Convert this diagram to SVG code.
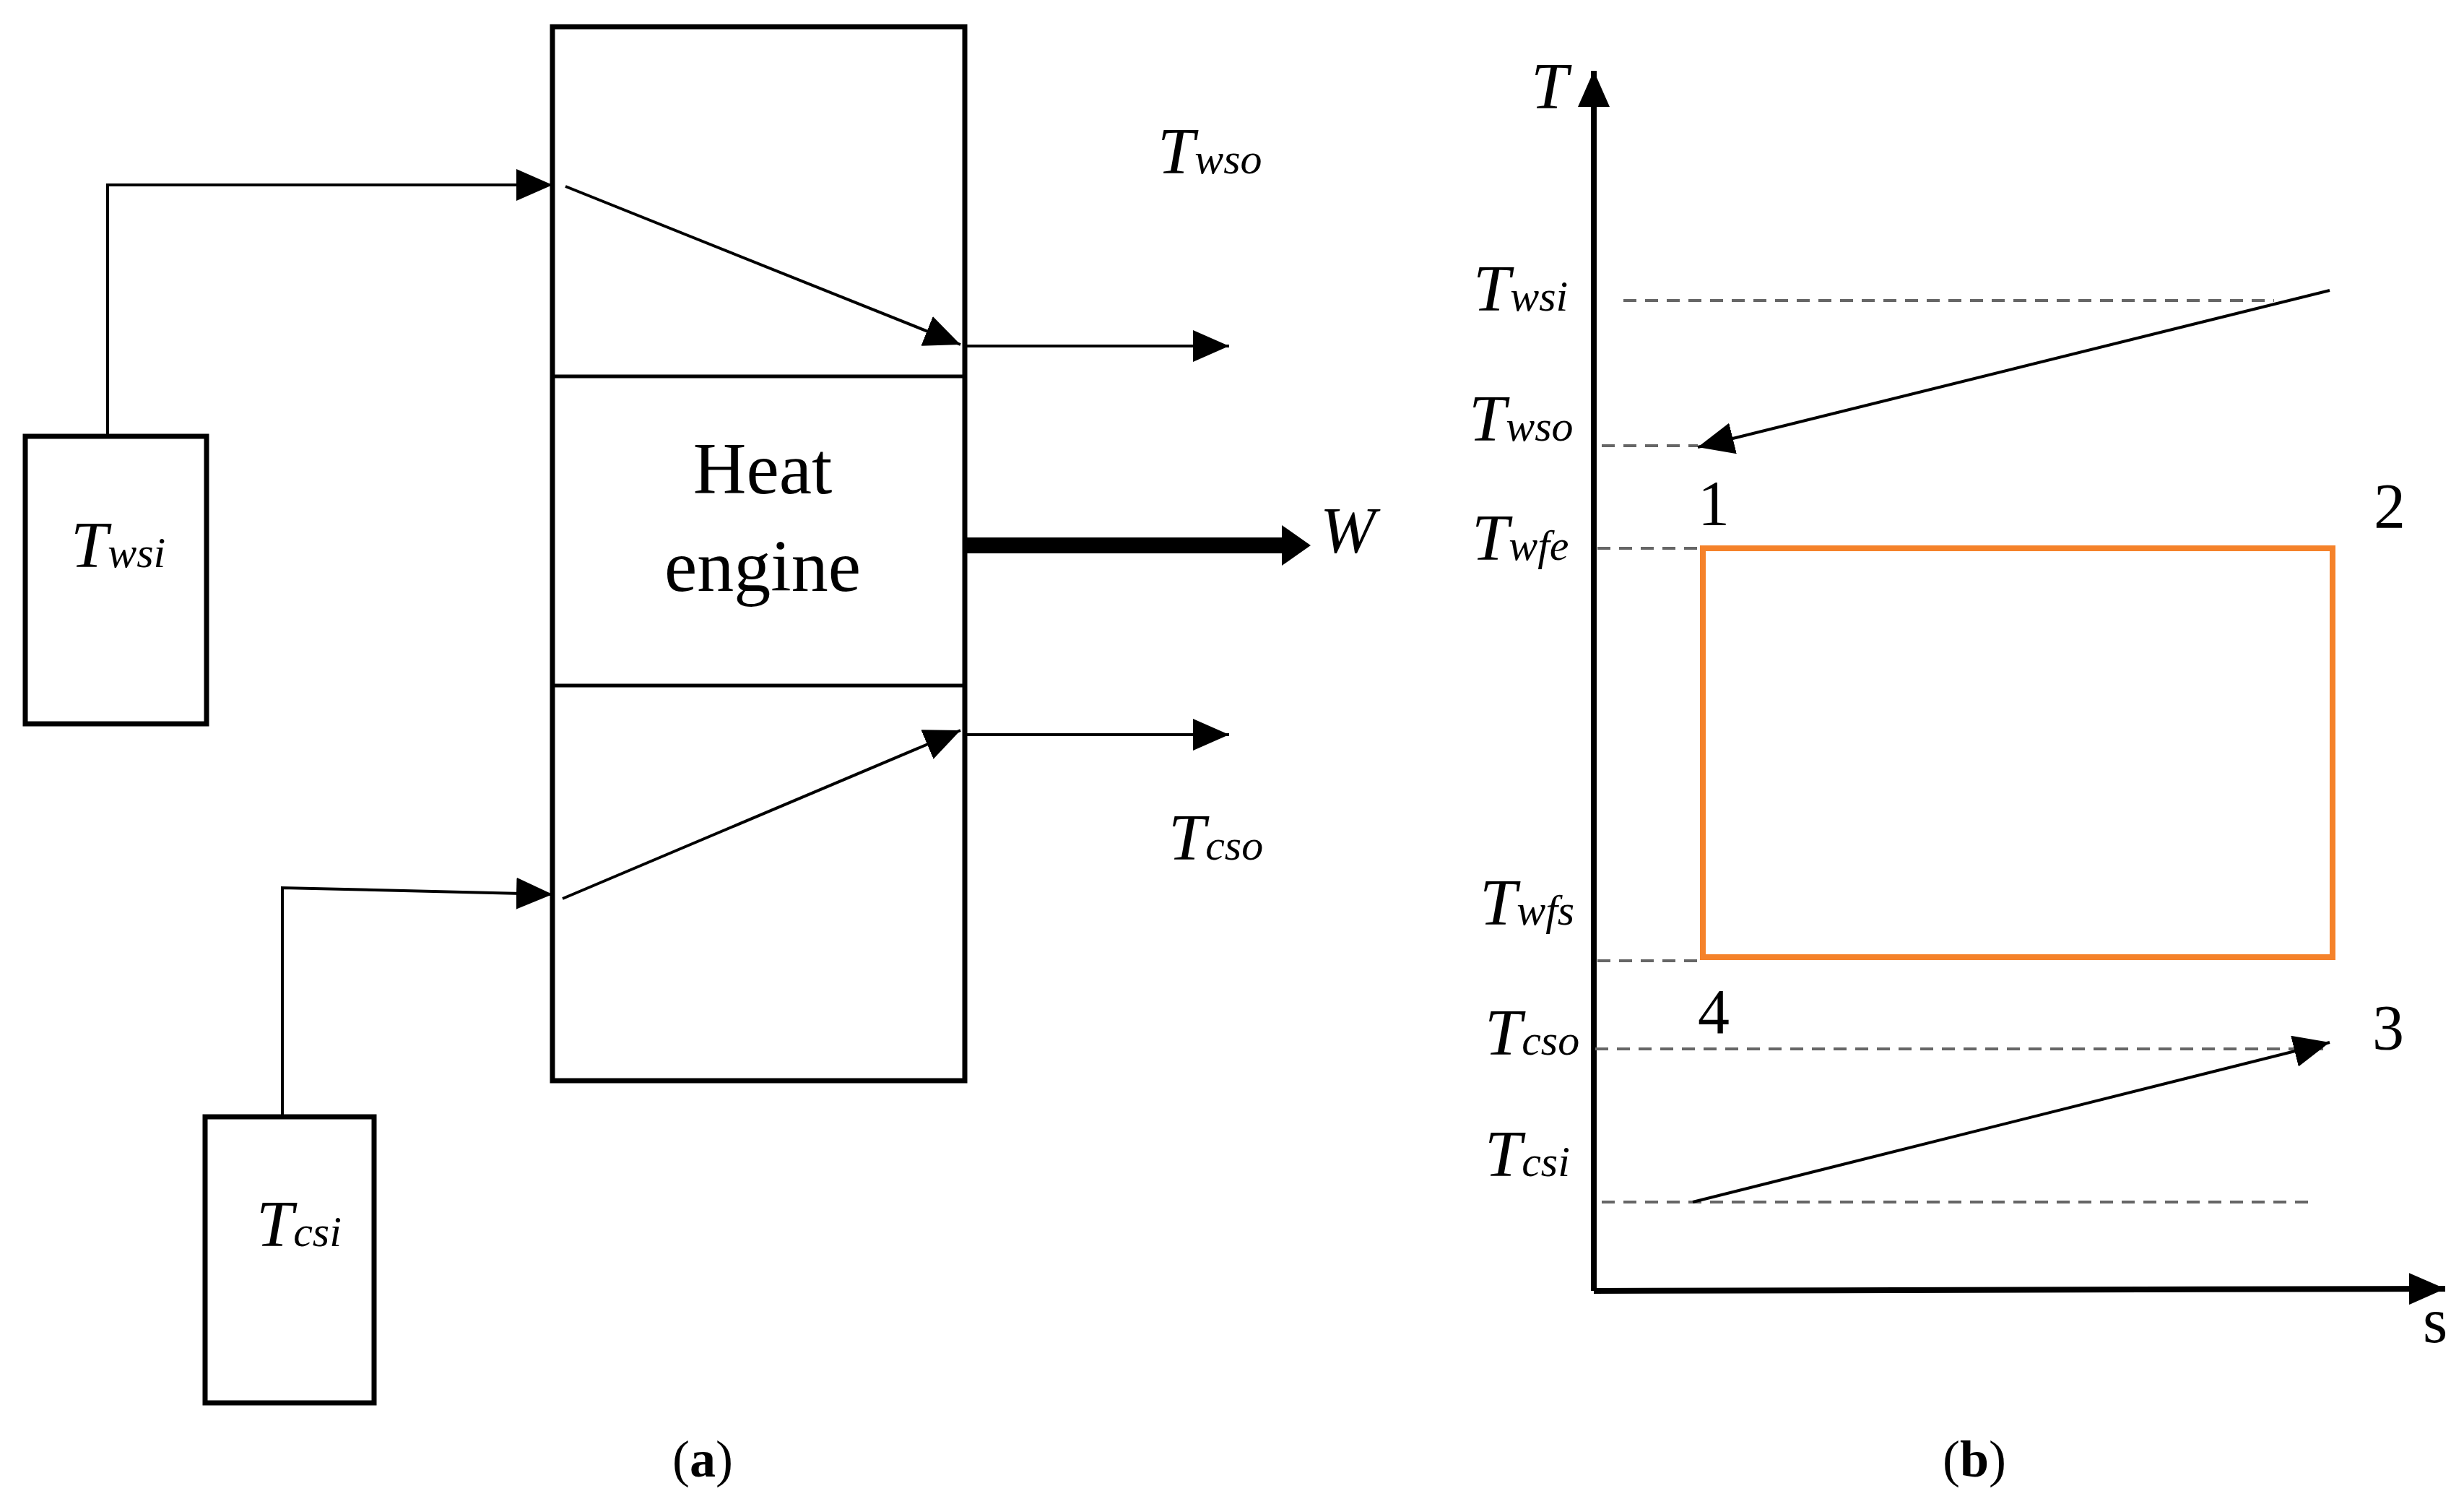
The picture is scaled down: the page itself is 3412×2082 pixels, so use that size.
<svg xmlns="http://www.w3.org/2000/svg" width="3412" height="2082" viewBox="0 0 3412 2082">
<style>
text{font-family:"Liberation Serif","DejaVu Serif",serif;fill:#000}
.it{font-style:italic;font-size:92px}
.sub{font-size:60px}
.num{font-size:88px}
.box{fill:none;stroke:#000;stroke-width:7}
.ln{fill:none;stroke:#000;stroke-width:4}
.dash{fill:none;stroke:#666;stroke-width:4;stroke-dasharray:18,12}
</style>
<defs>
<marker id="ahb" viewBox="0 0 10 10" refX="10" refY="5" markerWidth="50" markerHeight="44" markerUnits="userSpaceOnUse" orient="auto" preserveAspectRatio="none"><path d="M0,0L10,5L0,10z" fill="#000"/></marker>
<marker id="ahw" viewBox="0 0 10 10" refX="10" refY="5" markerWidth="40" markerHeight="56" markerUnits="userSpaceOnUse" orient="auto" preserveAspectRatio="none"><path d="M0,0L10,5L0,10z" fill="#000"/></marker>
</defs>
<g id="engine">
<rect class="box" x="765" y="37" width="571" height="1459"/>
<line class="ln" x1="765" y1="521" x2="1336" y2="521" style="stroke-width:5"/>
<line class="ln" x1="765" y1="949" x2="1336" y2="949" style="stroke-width:5"/>
<text x="1056" y="683" text-anchor="middle" font-size="102">Heat</text>
<text x="1056" y="818" text-anchor="middle" font-size="102">engine</text>
</g>
<g id="hot">
<rect class="box" x="35" y="604" width="251" height="398"/>
<text x="98" y="785" class="it">T<tspan class="sub">wsi</tspan></text>
</g>
<g id="cold">
<rect class="box" x="284" y="1546" width="234" height="396"/>
<text x="355" y="1725" class="it">T<tspan class="sub">csi</tspan></text>
</g>
<g id="labels-a">
<text x="1603" y="240" class="it">T<tspan class="sub">wso</tspan></text>
<text x="1618" y="1190" class="it">T<tspan class="sub">cso</tspan></text>
<text x="1828" y="765" class="it">W</text>
<text x="973" y="2044" text-anchor="middle" font-size="72">(<tspan font-weight="bold">a</tspan>)</text>
</g>
<g id="connectors-a">
<path class="ln" d="M149,604V256H765" marker-end="url(#ahb)"/>
<path class="ln" d="M391,1546V1229L765,1238" marker-end="url(#ahb)"/>
<line class="ln" x1="783" y1="258" x2="1330" y2="477" marker-end="url(#ahb)"/>
<line class="ln" x1="1336" y1="479" x2="1702" y2="479" marker-end="url(#ahb)"/>
<line class="ln" x1="779" y1="1244" x2="1330" y2="1011" marker-end="url(#ahb)"/>
<line class="ln" x1="1336" y1="1017" x2="1702" y2="1017" marker-end="url(#ahb)"/>
<line x1="1336" y1="755" x2="1782" y2="755" stroke="#000" stroke-width="22"/>
<path d="M1775,727L1815,755L1775,783z" fill="#000"/>
</g>
<g id="ts-diagram">
<path class="ln" d="M2207,1787V98" style="stroke-width:8" marker-end="url(#ahb)"/>
<path class="ln" d="M2207,1787L3386,1784" style="stroke-width:8" marker-end="url(#ahb)"/>
<text x="2120" y="150" class="it">T</text>
<text x="3355" y="1858" font-size="88">s</text>
<path class="dash" d="M2248,416H3149M2218,617H2351M2212,759H2358M2212,1330H2358M2209,1452H3226M2218,1664H3200"/>
<rect x="2358" y="759" width="872" height="566" fill="none" stroke="#f5822a" stroke-width="8"/>
<line class="ln" x1="3226" y1="402" x2="2351" y2="619" marker-end="url(#ahb)"/>
<line class="ln" x1="2344" y1="1664" x2="3226" y2="1443" marker-end="url(#ahb)"/>
<text x="2040" y="430" class="it">T<tspan class="sub">wsi</tspan></text>
<text x="2034" y="610" class="it">T<tspan class="sub">wso</tspan></text>
<text x="2038" y="775" class="it">T<tspan class="sub">wfe</tspan></text>
<text x="2049" y="1280" class="it">T<tspan class="sub">wfs</tspan></text>
<text x="2056" y="1460" class="it">T<tspan class="sub">cso</tspan></text>
<text x="2056" y="1628" class="it">T<tspan class="sub">csi</tspan></text>
<text x="2373" y="726" class="num" text-anchor="middle">1</text>
<text x="3309" y="730" class="num" text-anchor="middle">2</text>
<text x="3307" y="1452" class="num" text-anchor="middle">3</text>
<text x="2373" y="1430" class="num" text-anchor="middle">4</text>
<text x="2734" y="2044" text-anchor="middle" font-size="72">(<tspan font-weight="bold">b</tspan>)</text>
</g>
</svg>
